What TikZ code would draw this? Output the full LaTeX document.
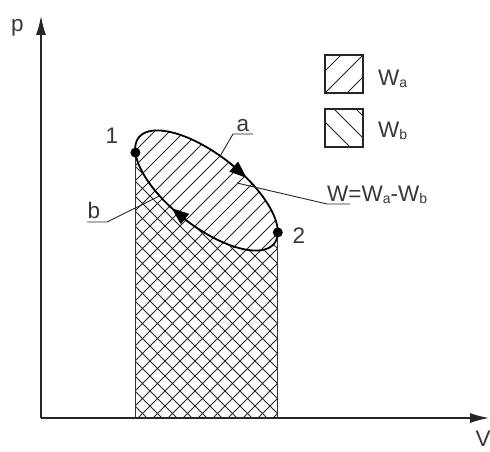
\documentclass[tikz,border=0pt]{standalone}
\usepackage{fontspec}
\setmainfont{Liberation Sans}
\usetikzlibrary{arrows.meta}
\newcommand\mysub[1]{\raisebox{-2pt}{\fontsize{14}{14}\selectfont #1}}
\begin{document}
\begin{tikzpicture}[x=1pt,y=1pt,
  declare function={ex(\x)=206.5+86*cos(\x)*cos(38)+36*sin(\x)*sin(38);
                     ey(\x)=260.5-86*cos(\x)*sin(38)+36*sin(\x)*cos(38);},
  lbl/.style={text=black!78, font=\fontsize{22.5}{26}\selectfont, inner sep=0pt},
  hatchline/.style={line width=0.9pt, black!85},
  axisline/.style={line width=1.3pt, black!85, -{Latex[length=19pt,width=10pt]}},
  curve/.style={line width=1.8pt, black},
  flowtip/.style={line width=1.2pt, -{Triangle[length=17pt,width=13pt]}},
  leader/.style={line width=0.9pt, black!85},
  side/.style={line width=1.1pt, black!80},
  dot/.style={circle, fill=black, inner sep=0pt, minimum size=10pt},
  legbox/.style={line width=1.4pt, black!85}
]
\useasboundingbox (0,0) rectangle (490,451);

% key points
\coordinate (O) at (41,33);
\coordinate (YT) at (41,435);
\coordinate (XT) at (489,33);
\coordinate (E1) at ({ex(202.7)},{ey(202.7)});
\coordinate (E2) at ({ex(17.6)},{ey(17.6)});
\coordinate (E1b) at (E1 |- O);
\coordinate (E2b) at (E2 |- O);

% hatching of W_a inside the cycle
\begin{scope}
  \clip plot[domain=0:360,samples=121,variable=\t] ({ex(\t)},{ey(\t)}) -- cycle;
  \foreach \c in {-300,-285,...,210} \draw[hatchline] (0,\c) -- ++(500,500);
\end{scope}
% cross hatching under curve b
\begin{scope}
  \clip (E1b) -- (E1) -- plot[domain=202.7:377.6,samples=80,variable=\t] ({ex(\t)},{ey(\t)}) -- (E2b) -- cycle;
  \foreach \c in {-300,-285,...,210} \draw[hatchline] (0,\c) -- ++(500,500);
  \foreach \c in {150,165,...,630} \draw[hatchline] (0,\c) -- ++(500,-500);
\end{scope}

% sides of the area
\draw[side] (E1) -- (E1b);
\draw[side] (E2) -- (E2b);

% the cycle
\draw[curve] plot[domain=0:360,samples=121,variable=\t] ({ex(\t)},{ey(\t)}) -- cycle;
\coordinate (Fa1) at ({ex(90)},{ey(90)});
\coordinate (Fa2) at ({ex(74)},{ey(74)});
\coordinate (Fb1) at ({ex(275)},{ey(275)});
\coordinate (Fb2) at ({ex(259)},{ey(259)});
\draw[flowtip] (Fa1) -- (Fa2);
\draw[flowtip] (Fb1) -- (Fb2);

% axes
\draw[axisline] (O) -- (YT);
\draw[axisline] (O) -- (XT);
\node[lbl] (Lp) at (17.5,423) {p};
\node[lbl, anchor=north] (LV) at (483,20) {V};

% state points
\node[dot] (P1) at (E1) {};
\node[dot] (P2) at (E2) {};
\node[lbl] (L1) at (112,315) {1};
\node[lbl] (L2) at (299,215) {2};

% label a
\node[lbl, anchor=base] (La) at (243,320) {a};
\coordinate (LaL) at (233,317);
\coordinate (LaR) at (253,317);
\coordinate (Ea) at ({ex(97)},{ey(97)});
\draw[leader] (LaR) -- (LaL) -- (Ea);

% label b
\node[lbl, anchor=base] (Lb) at (94,233) {b};
\coordinate (LbL) at (87,229);
\coordinate (LbR) at (107,229);
\coordinate (Eb) at ({ex(247)},{ey(247)});
\draw[leader] (LbL) -- (LbR) -- (Eb);

% label W
\node[lbl, anchor=base west] (LW) at (327,250) {W=W\mysub{a}-W\mysub{b}};
\coordinate (LWL) at (327,247);
\coordinate (LWR) at (350,247);
\coordinate (EW) at (237,268);
\draw[leader] (LWR) -- (LWL) -- (EW);

% legend
\begin{scope}
  \clip (325,358) rectangle (363,396);
  \foreach \c in {11,33,55} \draw[hatchline] (300,300+\c) -- ++(100,100);
\end{scope}
\draw[legbox] (325,358) rectangle (363,396);
\begin{scope}
  \clip (325,304) rectangle (363,342);
  \foreach \c in {354,376,398} \draw[hatchline] (300,\c) -- ++(100,-100);
\end{scope}
\draw[legbox] (325,304) rectangle (363,342);
\node[lbl, anchor=base west] (LWa) at (378,366) {W\mysub{a}};
\node[lbl, anchor=base west] (LWb) at (378,314) {W\mysub{b}};
\end{tikzpicture}
\end{document}
